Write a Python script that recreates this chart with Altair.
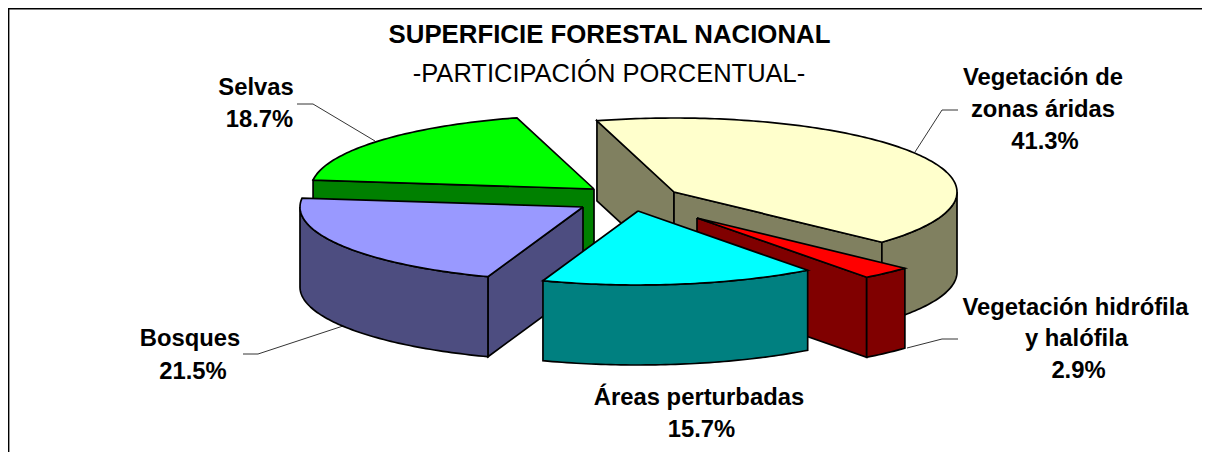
import math
import altair as alt
import pandas as pd

# ---- chart values ----
names = ["Vegetación de zonas áridas", "Vegetación hidrófila y halófila", "Áreas perturbadas", "Bosques", "Selvas"]
shares = [41.3, 2.9, 15.7, 21.5, 18.7]
top_colors = ["#FFFFCC", "#FF0000", "#00FFFF", "#9999FF", "#00FF00"]
side_colors = ["#808060", "#800000", "#008080", "#4D4D80", "#008000"]
hub_x = [674, 697, 638, 583, 594]
hub_y = [192, 218, 211, 207, 189]
draw_order = [0, 4, 3, 1, 2]

label_text = ["SUPERFICIE FORESTAL NACIONAL", "-PARTICIPACIÓN PORCENTUAL-",
              "Vegetación de", "zonas áridas", "41.3%",
              "Vegetación hidrófila", "y halófila", "2.9%",
              "Áreas perturbadas", "15.7%",
              "Bosques", "21.5%",
              "Selvas", "18.7%"]
label_x = [609.5, 609, 1043, 1043, 1045, 1075.5, 1076.5, 1078.5, 699, 701.5, 190, 193, 256, 259.5]
label_y = [43, 82, 85, 117, 149, 314.5, 346, 378, 405, 437, 346, 379, 95, 127]

leaders = [
    [(958, 110), (942, 110), (915, 152)],
    [(958, 339), (942, 339), (907, 348)],
    [(243, 354), (258, 354), (343, 326)],
    [(297, 104), (313, 104), (375, 141)],
]

RX, RY, DEPTH = 283, 74, 80
START = -15.8
W, H = 1194, 444
OX, OY = 8, 8

xs = alt.Scale(domain=[OX, OX + W], range=[0, W], nice=False, zero=False)
ys = alt.Scale(domain=[OY, OY + H], range=[0, H], nice=False, zero=False)
X = alt.X("x:Q", scale=xs, axis=None)
Y = alt.Y("y:Q", scale=ys, axis=None)


def rim(i, t):
    r = math.radians(t)
    return hub_x[i] + RX * math.sin(r), hub_y[i] - RY * math.cos(r)


def drop(pts):
    return [(a, b + DEPTH) for a, b in pts]


def poly(pts, fill, width=1.7):
    pts = list(pts) + [pts[0]]
    df = pd.DataFrame({"x": [p[0] for p in pts], "y": [p[1] for p in pts], "o": range(len(pts))})
    return alt.Chart(df).mark_line(fill=fill, stroke="#000000", strokeWidth=width, strokeJoin="miter",
                                   clip=False).encode(x=X, y=Y, order="o:Q")


layers = []

# frame
frame = pd.DataFrame({"x": [8.7, 8.7, OX + W], "y": [OY + H, 8.7, 8.7], "o": [0, 1, 2]})
layers.append(alt.Chart(frame).mark_line(stroke="#000000", strokeWidth=1.4).encode(x=X, y=Y, order="o:Q"))

# leader lines
for pts in leaders:
    df = pd.DataFrame({"x": [p[0] for p in pts], "y": [p[1] for p in pts], "o": range(len(pts))})
    layers.append(alt.Chart(df).mark_line(stroke="#000000", strokeWidth=0.8).encode(x=X, y=Y, order="o:Q"))

# slices: angles come from the shares
starts, a = [], START
for s in shares:
    starts.append(a)
    a += s * 3.6 * 100 / sum(shares)

for i in draw_order:
    t0 = starts[i]
    t1 = t0 + shares[i] * 3.6 * 100 / sum(shares)
    hub = (hub_x[i], hub_y[i])
    # radial walls seen from the front
    for t, normal in ((t0, t0 - 90), (t1, t1 + 90)):
        if math.cos(math.radians(normal)) < 0:
            edge = [hub, rim(i, t)]
            layers.append(poly(edge + drop(edge)[::-1], side_colors[i]))
    # outer wall: only the part facing the viewer
    lo, hi = None, None
    for base in (0, 360, -360):
        a0, a1 = max(t0 + base, 90), min(t1 + base, 270)
        if a1 > a0:
            lo, hi = a0, a1
            break
    if lo is not None:
        n = max(2, int(hi - lo) + 1)
        arc = [rim(i, lo + (hi - lo) * k / (n - 1)) for k in range(n)]
        layers.append(poly(arc + drop(arc)[::-1], side_colors[i]))
    # top face
    n = max(2, int(t1 - t0) + 1)
    arc = [rim(i, t0 + (t1 - t0) * k / (n - 1)) for k in range(n)]
    layers.append(poly([hub] + arc, top_colors[i]))

# texts
labels = pd.DataFrame({"t": label_text, "x": label_x, "y": label_y})
title_df = labels.iloc[[0]]
sub_df = labels.iloc[[1]]
rest_df = labels.iloc[2:]
txt = dict(font="Liberation Sans", color="#000000", align="center", baseline="alphabetic")
layers.append(alt.Chart(title_df).mark_text(fontSize=25.8, fontWeight="bold", **txt).encode(x=X, y=Y, text="t:N"))
layers.append(alt.Chart(sub_df).mark_text(fontSize=25.5, fontWeight="normal", **txt).encode(x=X, y=Y, text="t:N"))
layers.append(alt.Chart(rest_df).mark_text(fontSize=23.8, fontWeight="bold", **txt).encode(x=X, y=Y, text="t:N"))

chart = alt.layer(*layers).properties(
    width=W, height=H, padding=0, autosize=alt.AutoSizeParams(type="none"), background="#FFFFFF"
).configure_view(stroke=None)

chart.save("out.html", embed_options={"renderer": "svg", "actions": False})
